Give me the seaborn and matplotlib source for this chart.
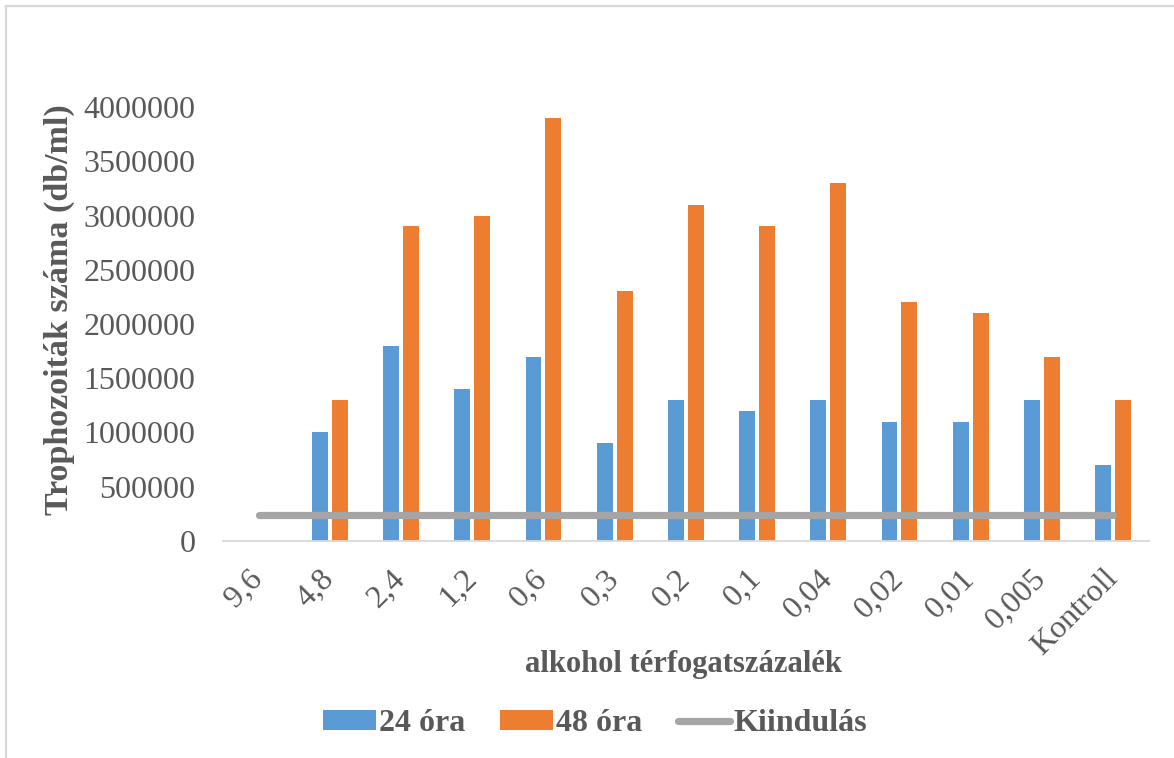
import numpy as np
import pandas as pd
import matplotlib
matplotlib.use("Agg")
import matplotlib.pyplot as plt
from matplotlib.lines import Line2D
from matplotlib.patches import Patch
import seaborn as sns

# Ethanol concentration (v/v %) and trophozoite counts (cells/ml)
categories = ["9,6", "4,8", "2,4", "1,2", "0,6", "0,3", "0,2", "0,1",
              "0,04", "0,02", "0,01", "0,005", "Kontroll"]
counts_24h = [0, 1000000, 1800000, 1400000, 1700000, 900000, 1300000,
              1200000, 1300000, 1100000, 1100000, 1300000, 700000]
counts_48h = [0, 1300000, 2900000, 3000000, 3900000, 2300000, 3100000,
              2900000, 3300000, 2200000, 2100000, 1700000, 1300000]
initial = [240000] * len(categories)
series_names = ["24 óra", "48 óra", "Kiindulás"]
y_ticks = [0, 500000, 1000000, 1500000, 2000000, 2500000, 3000000,
           3500000, 4000000]

BLUE = "#5B9BD5"
ORANGE = "#ED7D31"
GRAY = "#A5A5A5"
TEXT = "#595959"
GRID = "#D9D9D9"

sns.set_theme(style="white")
plt.rcParams["font.family"] = ["Liberation Serif", "DejaVu Serif"]

df = pd.DataFrame({
    "cat": categories * 2,
    "value": counts_24h + counts_48h,
    "series": [series_names[0]] * len(categories) + [series_names[1]] * len(categories),
})

fig = plt.figure(figsize=(11.74, 7.58), dpi=100)
ax = fig.add_axes([0.19, 0.2863, 0.7884, 0.5725])

sns.barplot(data=df, x="cat", y="value", hue="series",
            palette=[BLUE, ORANGE], saturation=1, width=0.56, gap=0.2,
            linewidth=0, legend=False, ax=ax)

pos = np.arange(len(categories))
sns.lineplot(x=pos, y=initial, color=GRAY, linewidth=5.2,
             solid_capstyle="round", ax=ax)

ax.set_xlim(-0.5, len(categories) - 0.5)
ax.set_ylim(0, 4000000)
ax.set_yticks(y_ticks)
ax.set_yticklabels([str(v) for v in y_ticks], fontsize=23, color=TEXT)
ax.set_xticks(pos)
ax.set_xticklabels(categories, fontsize=23, color=TEXT, rotation=45,
                   ha="right", va="center", rotation_mode="anchor")
ax.tick_params(axis="y", length=0, pad=20)
ax.tick_params(axis="x", length=0, pad=24)

for side in ["left", "right", "top"]:
    ax.spines[side].set_visible(False)
ax.spines["bottom"].set_color(GRID)
ax.spines["bottom"].set_linewidth(1.3)

ax.set_ylabel("Trophozoiták száma (db/ml)", fontsize=24.5, fontweight="bold",
              color=TEXT)
ax.yaxis.set_label_coords(-0.16, 0.532)
ax.set_xlabel("alkohol térfogatszázalék", fontsize=22, fontweight="bold",
              color=TEXT)
ax.xaxis.set_label_coords(0.498, -0.252)

handles = [
    Patch(facecolor=BLUE, edgecolor="none"),
    Patch(facecolor=ORANGE, edgecolor="none"),
    Line2D([0], [0], color=GRAY, linewidth=5.2, solid_capstyle="round"),
]
leg = fig.legend(handles, series_names, loc="center",
                 bbox_to_anchor=(595 / 1174, 0.045), ncol=3, frameon=False,
                 prop={"size": 23, "weight": "bold"},
                 handlelength=1.65, handleheight=0.55, handletextpad=0.1,
                 columnspacing=1.1)
for t in leg.get_texts():
    t.set_color(TEXT)

# Chart-area border (left and top edges)
fig.add_artist(Line2D([6 / 1174, 6 / 1174], [0, 1 - 6 / 758],
                      transform=fig.transFigure, color=GRID, linewidth=1.6))
fig.add_artist(Line2D([6 / 1174, 1], [1 - 6 / 758, 1 - 6 / 758],
                      transform=fig.transFigure, color=GRID, linewidth=1.6))

fig.savefig("out.png", dpi=100, facecolor="white")
